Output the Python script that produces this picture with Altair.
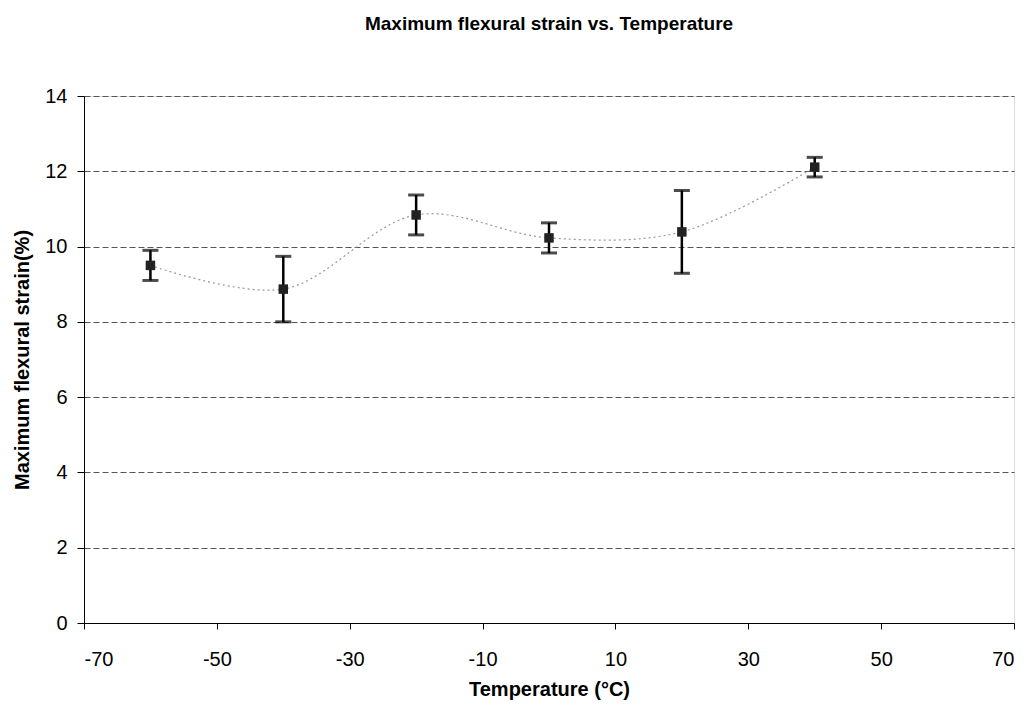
import altair as alt
import pandas as pd

temps = [-60, -40, -20, 0, 20, 40]
strain = [9.5, 8.87, 10.84, 10.23, 10.39, 12.11]
err = [0.4, 0.87, 0.53, 0.4, 1.1, 0.26]

x_ticks = [-70, -50, -30, -10, 10, 30, 50, 70]
y_ticks = [0, 2, 4, 6, 8, 10, 12, 14]

df = pd.DataFrame({"T": temps, "S": strain, "E": err})
df["lo"] = df["S"] - df["E"]
df["hi"] = df["S"] + df["E"]

FONT = "Liberation Sans"

xs = alt.Scale(domain=[-70, 70], nice=False, zero=False)
ys = alt.Scale(domain=[0, 14], nice=False)

x_axis = alt.Axis(values=x_ticks, grid=False, title="Temperature (°C)",
                  labelExpr="toString(datum.value)",
                  labelPadding=20, titlePadding=10, tickSize=6,
                  labelFontSize=20, titleFontSize=20, titleFontWeight="bold",
                  domainColor="black", tickColor="black", labelColor="black",
                  titleColor="black", labelFont=FONT, titleFont=FONT)
y_axis = alt.Axis(values=y_ticks, grid=True, gridColor="#555", gridDash=[6, 3],
                  gridWidth=1, title="Maximum flexural strain(%)",
                  labelPadding=10, titlePadding=12, tickSize=7,
                  labelFontSize=20, titleFontSize=20, titleFontWeight="bold",
                  domainColor="black", tickColor="black", labelColor="black",
                  titleColor="black", labelFont=FONT, titleFont=FONT)

base = alt.Chart(df)

line = base.mark_line(color="#999999", strokeDash=[2, 3], strokeWidth=1.2,
                      interpolate="catmull-rom").encode(
    x=alt.X("T:Q", scale=xs, axis=x_axis),
    y=alt.Y("S:Q", scale=ys, axis=y_axis),
)

bars = base.mark_rule(color="black", strokeWidth=2.5).encode(
    x="T:Q", y="lo:Q", y2="hi:Q")

cap_lo = base.mark_tick(color="black", orient="horizontal", size=16,
                        thickness=3).encode(x="T:Q", y="lo:Q")
cap_hi = base.mark_tick(color="black", orient="horizontal", size=16,
                        thickness=3).encode(x="T:Q", y="hi:Q")

pts = base.mark_point(shape="square", filled=True, color="#222222",
                      size=90, opacity=1).encode(x="T:Q", y="S:Q")

chart = alt.layer(line, bars, cap_lo, cap_hi, pts).properties(
    width=930, height=527,
    title=alt.TitleParams("Maximum flexural strain vs. Temperature",
                          font=FONT, fontSize=19, fontWeight="bold",
                          color="black", anchor="middle", offset=52),
    autosize=alt.AutoSizeParams(type="none"),
    padding={"left": 84, "top": 96, "right": 15, "bottom": 83},
).configure_view(stroke="black", strokeWidth=1.2).configure(background="white")

chart.save("out.html", embed_options={"renderer": "svg", "actions": False})
